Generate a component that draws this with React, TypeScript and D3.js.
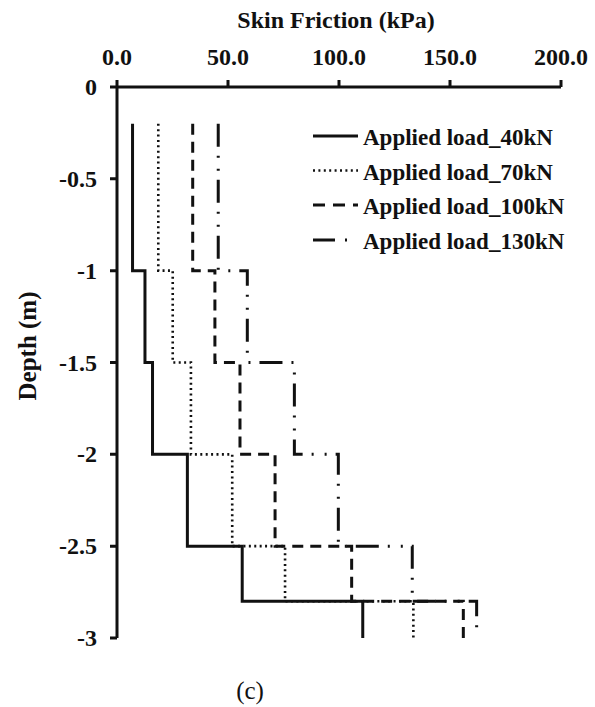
import React from "react";
import * as d3 from "d3";

// depth boundaries of each step (m) and skin friction per segment (kPa)
const depths = [-0.2, -1, -1.5, -2, -2.5, -2.8, -3];
const load40 = [7, 12.6, 16, 31.7, 56.4, 110.7];
const load70 = [18.6, 25.1, 33.3, 51.9, 75.7, 133.5];
const load100 = [34.1, 44.1, 55.4, 71.2, 105.7, 156];
const load130 = [45.6, 58.7, 79.9, 99.7, 133, 162];

const seriesNames = ["Applied load_40kN", "Applied load_70kN", "Applied load_100kN", "Applied load_130kN"];
const xTicks = [0, 50, 100, 150, 200];

const W = 595, H = 707;
const FONT = "Liberation Serif, Times New Roman, serif";
const bold = { fontFamily: FONT, fontWeight: 700 as const };

export default function App() {
  const x = d3.scaleLinear().domain([0, 200]).range([117, 561]);
  const y = d3.scaleLinear().domain([0, -3]).range([87, 638]);
  const yTicks = y.ticks(6);

  const styles = [
    { dash: null, width: 3 },
    { dash: "2,3.4", width: 2.6 },
    { dash: "11,7", width: 3 },
    { dash: "23,9,2,11,2,9", width: 3 },
  ];
  const data = [load40, load70, load100, load130];

  const line = d3.line<[number, number]>().x(d => x(d[0])).y(d => y(d[1]));
  const stepPoints = (vals: number[]) => {
    const pts: [number, number][] = [];
    vals.forEach((v, i) => {
      pts.push([v, depths[i]]);
      pts.push([v, depths[i + 1]]);
    });
    return pts;
  };

  const xAxisPath = `M${x(0)},${y(0)}H${x(200)}` + xTicks.map(t => `M${x(t)},${y(0)}v-7`).join("");
  const yAxisPath = `M${x(0)},${y(0)}V${y(-3)}` + yTicks.map(t => `M${x(0)},${y(t)}h-7`).join("");

  const legendY = [136, 170.5, 205, 240];

  return (
    <svg width={W} height={H} style={{ position: "absolute", left: 0, top: 0, background: "#fff" }}>
      <text x={336} y={28} fontSize={24} textAnchor="middle" fill="#111" style={bold}>Skin Friction (kPa)</text>
      {xTicks.map(t => (
        <text key={t} x={x(t)} y={65} fontSize={24} textAnchor="middle" fill="#111" style={bold}>{d3.format(".1f")(t)}</text>
      ))}
      {yTicks.map(t => (
        <text key={t} x={97} y={y(t) + 8} fontSize={24} textAnchor="end" fill="#111" style={bold}>{t === 0 ? "0" : String(t)}</text>
      ))}
      <text transform="translate(36,346) rotate(-90)" fontSize={25} textAnchor="middle" fill="#111" style={bold}>Depth (m)</text>
      <path d={xAxisPath} stroke="#111" strokeWidth={3} fill="none" />
      <path d={yAxisPath} stroke="#111" strokeWidth={3} fill="none" />
      {data.map((vals, i) => (
        <path
          key={i}
          d={line(stepPoints(vals)) || ""}
          fill="none"
          stroke="#111"
          strokeWidth={styles[i].width}
          strokeDasharray={styles[i].dash || undefined}
        />
      ))}
      {seriesNames.map((name, i) => (
        <g key={name}>
          <line
            x1={313}
            x2={358}
            y1={legendY[i]}
            y2={legendY[i]}
            stroke="#111"
            strokeWidth={styles[i].width}
            strokeDasharray={i === 2 ? "12,8" : i === 3 ? "22,10,2,20" : styles[i].dash || undefined}
          />
          <text x={363} y={legendY[i] + 9} fontSize={23} fill="#111" style={bold}>{name}</text>
        </g>
      ))}
      <text x={250} y={699} fontSize={25} textAnchor="middle" fill="#111" style={{ fontFamily: FONT }}>(c)</text>
    </svg>
  );
}
